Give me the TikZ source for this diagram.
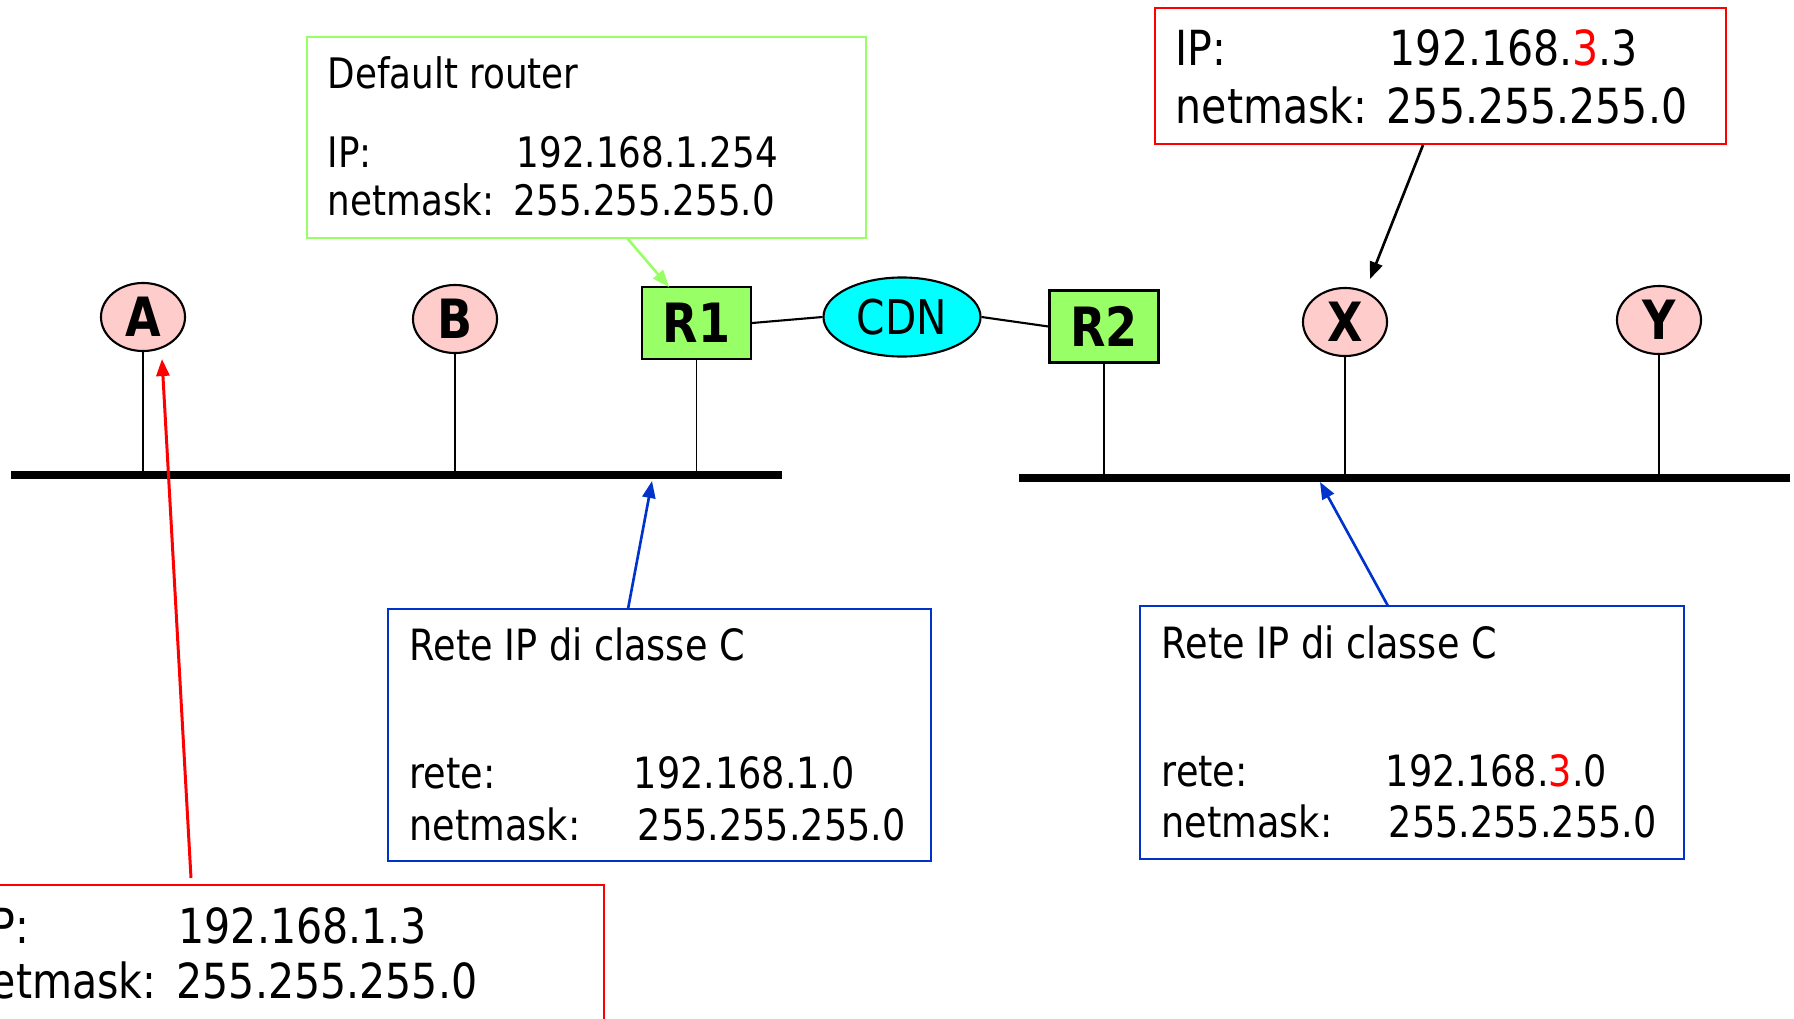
\documentclass[tikz,border=0pt]{standalone}
\usepackage{fontspec}
\setmainfont{DejaVu Sans}[FakeStretch=0.85]
\usetikzlibrary{shapes.geometric,arrows.meta}

\definecolor{hostpink}{RGB}{255,204,204}
\definecolor{routergreen}{RGB}{153,255,102}
\definecolor{cdncyan}{RGB}{0,255,255}
\definecolor{notegreen}{RGB}{153,255,102}
\definecolor{noteblue}{RGB}{0,51,204}
\definecolor{notered}{RGB}{255,0,0}

% text sizes of the various labels
\newcommand\smallnote{\fontsize{11.95}{14}\selectfont}
\newcommand\midnote{\fontsize{12.25}{14.5}\selectfont}
\newcommand\bignote{\fontsize{13.75}{16.5}\selectfont}
\newcommand\devfont{\bfseries\fontsize{15.4}{18}\selectfont}
\newcommand\cloudfont{\fontsize{13.6}{16}\selectfont}

\begin{document}
\begin{tikzpicture}[x=0.01cm,y=-0.01cm,
  host/.style={ellipse, draw, line width=0.6pt, fill=hostpink, inner sep=0pt,
    minimum width=0.84cm, minimum height=0.68cm, font=\devfont},
  router/.style={rectangle, draw, line width=0.6pt, fill=routergreen, inner sep=0pt,
    minimum width=1.09cm, minimum height=0.72cm, font=\devfont},
  cloud/.style={ellipse, draw, line width=0.6pt, fill=cdncyan, inner sep=0pt,
    minimum width=1.57cm, minimum height=0.79cm, font=\cloudfont},
  infobox/.style={rectangle, draw, line width=0.6pt, inner sep=0pt},
  txt/.style={anchor=base west, inner sep=0pt},
  stem/.style={line width=0.5pt},
  lan/.style={line width=2.3pt},
  link/.style={line width=0.6pt},
  pointer/.style={line width=0.75pt, -{Triangle[length=0.17cm,width=0.13cm]}}]

\useasboundingbox (0,0) rectangle (1794,1018);
\clip (0,0) rectangle (1794,1018);

% ---- LAN segments ----
\coordinate (lanLw) at (11,475);
\coordinate (lanLe) at (782,475);
\coordinate (lanRw) at (1019,478);
\coordinate (lanRe) at (1790,478);
\draw[lan] (lanLw) -- (lanLe);
\draw[lan] (lanRw) -- (lanRe);

% ---- devices ----
\node[host] (A) at (143,317) {A};
\node[host] (B) at (455,319) {B};
\node[router] (R1) at (696.5,323) {R1};
\node[cloud] (CDN) at (902,317) {CDN};
\node[router] (R2) at (1104,326.5) {R2};
\node[host] (X) at (1345,322) {X};
\node[host] (Y) at (1659,320) {Y};

% drops to the LANs
\draw[stem] (A.south) -- (A.south |- lanLw);
\draw[stem] (B.south) -- (B.south |- lanLw);
\draw[stem] (R1.south) -- (R1.south |- lanLw);
\draw[stem] (R2.south) -- (R2.south |- lanRw);
\draw[stem] (X.south) -- (X.south |- lanRw);
\draw[stem] (Y.south) -- (Y.south |- lanRw);

% WAN links
\draw[link] (R1.east) -- (CDN.west);
\draw[link] (CDN.east) -- (R2.west);

% ---- default router note ----
\node[infobox, draw=notegreen, minimum width=5.59cm, minimum height=2.01cm] (gnote) at (586.5,137.5) {};
\node[txt, font=\smallnote] (g1) at (327,88) {Default router};
\node[txt, font=\smallnote] (g2) at (327,167) {IP:};
\node[txt, font=\smallnote] (g3) at (516,167) {192.168.1.254};
\node[txt, font=\smallnote] (g4) at (327,215) {netmask:};
\node[txt, font=\smallnote] (g5) at (513,215) {255.255.255.0};

% ---- host X note ----
\node[infobox, draw=notered, minimum width=5.71cm, minimum height=1.36cm] (xnote) at (1440.5,76) {};
\node[txt, font=\bignote] (x1) at (1175,65) {IP:};
\node[txt, font=\bignote] (x2) at (1389,65) {192.168.\textcolor{notered}{3}.3};
\node[txt, font=\bignote] (x3) at (1175,123) {netmask:};
\node[txt, font=\bignote] (x4) at (1386,123) {255.255.255.0};

% ---- left network note ----
\node[infobox, draw=noteblue, minimum width=5.43cm, minimum height=2.52cm] (lnote) at (659.5,735) {};
\node[txt, font=\midnote] (l1) at (409,660) {Rete IP di classe C};
\node[txt, font=\midnote] (l2) at (409,788) {rete:};
\node[txt, font=\midnote] (l3) at (633,788) {192.168.1.0};
\node[txt, font=\midnote] (l4) at (409,840) {netmask:};
\node[txt, font=\midnote] (l5) at (637,840) {255.255.255.0};

% ---- right network note ----
\node[infobox, draw=noteblue, minimum width=5.44cm, minimum height=2.53cm] (rnote) at (1412,732.5) {};
\node[txt, font=\midnote] (r1) at (1161,658) {Rete IP di classe C};
\node[txt, font=\midnote] (r2) at (1161,786) {rete:};
\node[txt, font=\midnote] (r3) at (1385,786) {192.168.\textcolor{notered}{3}.0};
\node[txt, font=\midnote] (r4) at (1161,837) {netmask:};
\node[txt, font=\midnote] (r5) at (1388,837) {255.255.255.0};

% ---- host A note (runs past the left and bottom edges) ----
\node[infobox, draw=notered, minimum width=6.60cm, minimum height=1.36cm] (anote) at (274,953) {};
\node[txt, font=\bignote] (a1) at (-22,943) {IP:};
\node[txt, font=\bignote] (a2) at (178,943) {192.168.1.3};
\node[txt, font=\bignote] (a3) at (-36,998) {netmask:};
\node[txt, font=\bignote] (a4) at (176,998) {255.255.255.0};

% ---- pointers ----
\coordinate (gtail) at (627,238);
\coordinate (gtip) at (669,287);
\coordinate (xtail) at (1423,145);
\coordinate (xtip) at (1370,279);
\coordinate (ltail) at (628,609);
\coordinate (ltip) at (652,481);
\coordinate (rtail) at (1388,606);
\coordinate (rtip) at (1320,482);
\coordinate (atail) at (191,878);
\coordinate (atip) at (162,359);

\draw[pointer, draw=notegreen, fill=notegreen] (gtail) -- (gtip);
\draw[pointer, draw=black, fill=black] (xtail) -- (xtip);
\draw[pointer, draw=noteblue, fill=noteblue] (ltail) -- (ltip);
\draw[pointer, draw=noteblue, fill=noteblue] (rtail) -- (rtip);
\draw[pointer, draw=notered, fill=notered, line width=0.85pt] (atail) -- (atip);
\end{tikzpicture}
\end{document}
